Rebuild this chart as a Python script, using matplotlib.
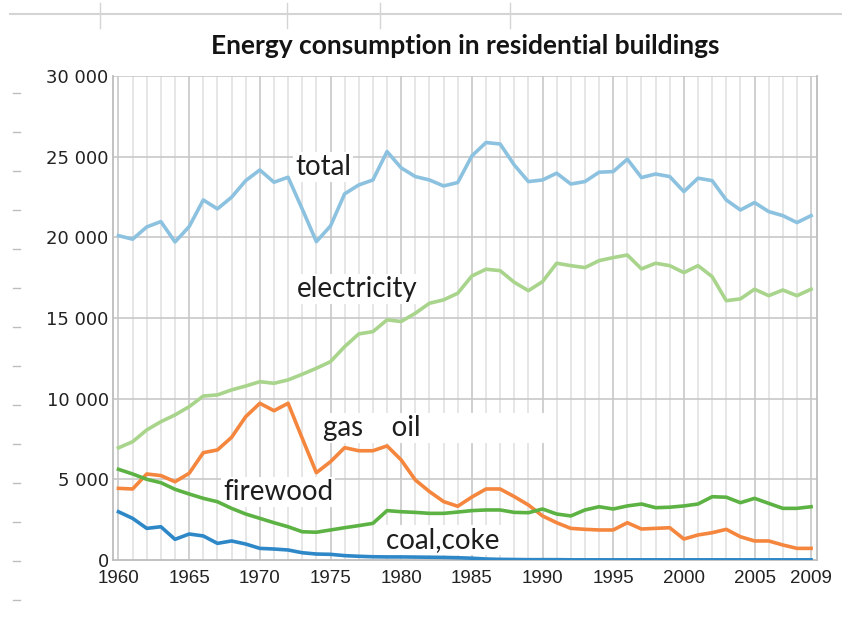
import matplotlib
matplotlib.use("Agg")
import matplotlib.pyplot as plt
from matplotlib.lines import Line2D
from matplotlib.ticker import FuncFormatter, MultipleLocator
import numpy as np

years = np.arange(1960, 2010)

total = [20100, 19880, 20640, 20970, 19710, 20660, 22310, 21760, 22480, 23510,
         24170, 23410, 23720, 21750, 19730, 20700, 22690, 23240, 23550, 25310,
         24300, 23760, 23550, 23180, 23390, 25040, 25870, 25780, 24480, 23450,
         23550, 23970, 23300, 23450, 24030, 24070, 24840, 23700, 23920, 23760,
         22830, 23660, 23510, 22310, 21690, 22150, 21590, 21340, 20910, 21340]

electricity = [6950, 7330, 8060, 8570, 8990, 9500, 10160, 10230, 10540, 10780,
               11050, 10950, 11160, 11510, 11880, 12290, 13220, 14010, 14150, 14880,
               14780, 15290, 15910, 16120, 16530, 17600, 18020, 17930, 17210, 16690,
               17250, 18390, 18240, 18120, 18550, 18740, 18900, 18040, 18390, 18240,
               17810, 18240, 17560, 16070, 16180, 16780, 16380, 16730, 16380, 16780]

oil = [4440, 4400, 5330, 5230, 4850, 5370, 6650, 6820, 7600, 8880,
       9710, 9250, 9710, 7540, 5410, 6090, 6960, 6770, 6770, 7070,
       6200, 4960, 4240, 3620, 3330, 3900, 4400, 4400, 3930, 3410,
       2730, 2310, 1960, 1900, 1860, 1860, 2310, 1920, 1960, 2000,
       1300, 1550, 1690, 1900, 1440, 1180, 1180, 930, 720, 720]

firewood = [5620, 5330, 5000, 4790, 4380, 4090, 3820, 3610, 3200, 2850,
            2580, 2310, 2060, 1750, 1720, 1860, 2000, 2130, 2270, 3060,
            2990, 2950, 2890, 2890, 2970, 3060, 3100, 3100, 2950, 2930,
            3160, 2850, 2730, 3100, 3300, 3160, 3350, 3470, 3240, 3270,
            3350, 3470, 3920, 3890, 3550, 3820, 3510, 3200, 3200, 3300]

coal = [2990, 2580, 1960, 2060, 1280, 1610, 1490, 1030, 1180, 990,
        720, 680, 620, 450, 370, 350, 270, 230, 200, 190,
        190, 180, 170, 160, 140, 110, 60, 40, 30, 20,
        20, 20, 10, 10, 10, 10, 10, 10, 10, 10,
        10, 10, 10, 10, 10, 10, 10, 10, 10, 10]

xtick_years = [1960, 1965, 1970, 1975, 1980, 1985, 1990, 1995, 2000, 2005, 2009]

fig = plt.figure(figsize=(8.42, 6.17), dpi=100)
ax = fig.add_axes([0.134, 0.0924, 0.836, 0.7846])

# grid: every year light, every 5 years darker
for yr in years:
    c = '#c8c8c8' if (yr % 5 == 0 or yr == 2009) else '#e2e2e2'
    ax.axvline(yr, color=c, lw=1.2, zorder=1)
for v in range(5000, 30001, 5000):
    ax.axhline(v, color='#c8c8c8', lw=1.2, zorder=1)

lw = 2.6
ax.plot(years, total, color='#8cc2e0', lw=lw, zorder=3)
ax.plot(years, electricity, color='#a8d48c', lw=lw, zorder=3)
ax.plot(years, oil, color='#f4863e', lw=lw, zorder=3)
ax.plot(years, firewood, color='#5db244', lw=lw, zorder=3)
ax.plot(years, coal, color='#2e88c8', lw=lw, zorder=3)

lab = dict(fontsize=20, family='Lato', color='#1e1e1e', zorder=2.5,
           va='center', ha='left')
box = dict(facecolor='white', edgecolor='none', pad=1.5)
ax.text(1972.5, 24350, 'total', bbox=box, **lab)
ax.text(1972.6, 16800, 'electricity', bbox=box, **lab)
ax.text(1974.5, 8200, 'gas    oil' + '\u2002' * 9, bbox=box, **lab)
ax.text(1967.4, 4200, 'firewood', bbox=box, **lab)
ax.text(1978.9, 1250, 'coal,coke ', bbox=box, **lab)

ax.set_xlim(1959.6, 2009.4)
ax.set_ylim(0, 30000)
ax.set_xticks(xtick_years)
ax.yaxis.set_major_locator(MultipleLocator(5000))
ax.yaxis.set_major_formatter(FuncFormatter(lambda v, p: '{:,.0f}'.format(v).replace(',', ' ')))
ax.tick_params(length=0, colors='#222222')
ax.tick_params(axis='y', labelsize=13, pad=3)
ax.tick_params(axis='x', labelsize=13.5, pad=7)
for t in ax.get_xticklabels():
    t.set_family('Liberation Sans')
for t in ax.get_yticklabels():
    t.set_family('DejaVu Sans')
ax.spines['top'].set_visible(False)
for s in ['left', 'bottom', 'right']:
    ax.spines[s].set_color('#bdbdbd')
    ax.spines[s].set_linewidth(1.3)

fig.text(0.552, 0.925, 'Energy consumption in residential buildings',
         ha='center', va='center', fontsize=19, fontweight='bold',
         family='Lato', color='#141414')

# spreadsheet remnants around the picture
fig.add_artist(Line2D([0.012, 1.0], [0.977, 0.977], color='#d4d4d4', lw=1.5))
for xp in [0.119, 0.341, 0.451, 0.606]:
    fig.add_artist(Line2D([xp, xp], [0.955, 0.995], color='#d4d4d4', lw=1))
for yp in np.arange(0.849, 0.0, -0.0632):
    fig.add_artist(Line2D([0.016, 0.024], [yp, yp], color='#bdbdbd', lw=1))

fig.savefig('out.png', dpi=100, facecolor='white')
